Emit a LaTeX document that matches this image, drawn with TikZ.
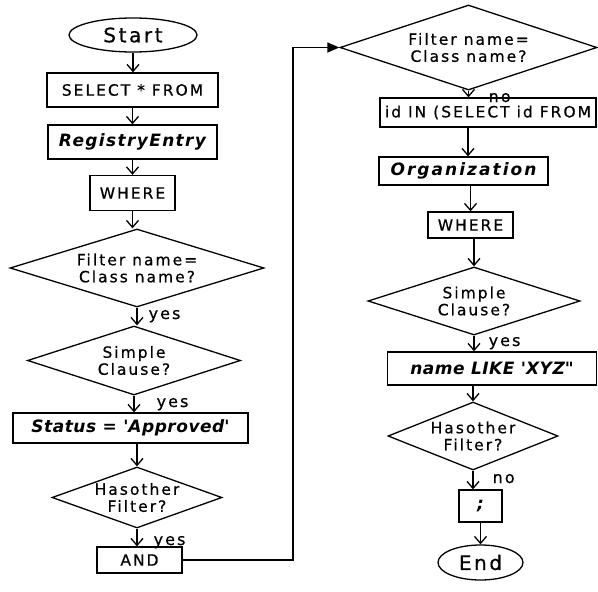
\documentclass[tikz,border=0pt]{standalone}
\usepackage{fontspec}
\usetikzlibrary{shapes.geometric,arrows.meta}
\newfontfamily\gfont{DejaVu Sans}[LetterSpace=13,FakeBold=0.6]
\newfontfamily\gbfont{DejaVu Sans}[LetterSpace=3]
\newfontfamily\gbwfont{DejaVu Sans}[LetterSpace=8]
\newfontfamily\gbxfont{DejaVu Sans}[LetterSpace=12]
\begin{document}
\begin{tikzpicture}[x=1pt,y=-1pt, line width=1.3pt,
  box/.style={draw, rectangle, inner sep=0pt, font=\gfont\fontsize{15.5}{17}\selectfont},
  ibox/.style={draw, rectangle, inner sep=0pt, font=\gbfont\bfseries\itshape\fontsize{17}{19}\selectfont},
  dia/.style={draw, diamond, inner sep=0pt},
  dtxt/.style={font=\gfont\fontsize{15.5}{17}\selectfont, align=center, inner sep=0pt},
  term/.style={draw, ellipse, inner sep=0pt, font=\gfont\fontsize{20}{22}\selectfont},
  arr/.style={-{Straight Barb[length=7pt,width=12pt]}},
  lbl/.style={font=\gfont\fontsize{16}{17}\selectfont, inner sep=0pt, anchor=base west},
]
\useasboundingbox (0,0) rectangle (598,592);
% left column
\node[term, minimum width=128pt, minimum height=34pt] (start) at (133,35) {Start};
\node[box, minimum width=171pt, minimum height=34pt] (sel) at (132.5,90) {SELECT * FROM};
\node[ibox, font=\gbwfont\bfseries\itshape\fontsize{17}{19}\selectfont, minimum width=169pt, minimum height=34pt] (reg) at (132.5,142) {RegistryEntry};
\node[box, minimum width=85pt, minimum height=35pt] (wh1) at (132.5,193) {WHERE};
\node[dia, minimum width=254pt, minimum height=78pt, label={[dtxt]center:{Filter name=\\Class name?}}] (d1) at (137,268) {};
\node[dia, minimum width=213pt, minimum height=69pt, label={[dtxt]center:{Simple\\Clause?}}] (d2) at (134,360.5) {};
\node[ibox, minimum width=235pt, minimum height=30pt] (st) at (130.5,428) {Status = \textquotesingle Approved\textquotesingle};
\node[dia, minimum width=170pt, minimum height=61pt, label={[dtxt]center:{Hasother\\Filter?}}] (d3) at (137,497.5) {};
\node[box, minimum width=85pt, minimum height=26pt] (and) at (139.5,560) {AND};
% right column
\node[dia, minimum width=257pt, minimum height=85pt, label={[dtxt]center:{Filter name=\\Class name?}}] (d4) at (468.5,47.5) {};
\node[box, minimum width=216pt, minimum height=29pt] (idin) at (488,112.5) {id IN (SELECT id FROM};
\node[ibox, font=\gbxfont\bfseries\itshape\fontsize{17}{19}\selectfont, minimum width=169pt, minimum height=28pt] (org) at (463.5,171) {Organization};
\node[box, minimum width=85pt, minimum height=26pt] (wh2) at (470.5,225) {WHERE};
\node[dia, minimum width=212pt, minimum height=68pt, label={[dtxt]center:{Simple\\Clause?}}] (d5) at (474,301) {};
\node[ibox, minimum width=209pt, minimum height=33pt] (nm) at (492,368.5) {name LIKE \textquotesingle XYZ\textquotedbl};
\node[dia, minimum width=170pt, minimum height=68pt, label={[dtxt]center:{Hasother\\Filter?}}] (d6) at (473,436) {};
\node[ibox, minimum width=43pt, minimum height=32pt] (semi) at (480.5,506) {;};
\node[term, minimum width=85pt, minimum height=35pt] (end) at (480.5,562.5) {End};
% labels
\node[lbl] (y1) at (148,319) {yes};
\node[lbl] (y2) at (156,407) {yes};
\node[lbl] (y3) at (153,545) {yes};
\node[lbl] (n1) at (488,102) {no};
\node[lbl] (y4) at (488,346) {yes};
\node[lbl] (n2) at (492,483) {no};
% arrows left
\draw[arr] (start.south) -- (start.south |- sel.north);
\draw[arr] (sel.south) -- (sel.south |- reg.north);
\draw[arr] (reg.south) -- (reg.south |- wh1.north);
\draw[arr] (wh1.south) -- (wh1.south |- d1.north);
\draw[arr] (d1.south) -- (d1.south |- d2.north);
\draw[arr] (d2.south) -- (d2.south |- st.north);
\draw[arr] (d3.north |- st.south) -- (d3.north);
\draw[arr] (d3.south) -- (d3.south |- and.north);
% arrows right
\draw[arr] (d4.south) -- (d4.south |- idin.north);
\draw[arr] ([xshift=-20pt]idin.south) -- ([xshift=-20pt]idin.south |- org.north);
\draw[arr] (wh2.north |- org.south) -- (wh2.north);
\draw[arr] (d5.north |- wh2.south) -- (d5.north);
\draw[arr] (d5.south) -- (d5.south |- nm.north);
\draw[arr] (d6.north |- nm.south) -- (d6.north);
\draw[arr] (d6.south) -- (d6.south |- semi.north);
\draw[arr] (semi) -- (end);
% loop
\coordinate (lp) at (293,300);
\draw[-{Triangle[length=12pt,width=10pt]}] (and.east) -| (lp) |- (d4.west);
\end{tikzpicture}
\end{document}
